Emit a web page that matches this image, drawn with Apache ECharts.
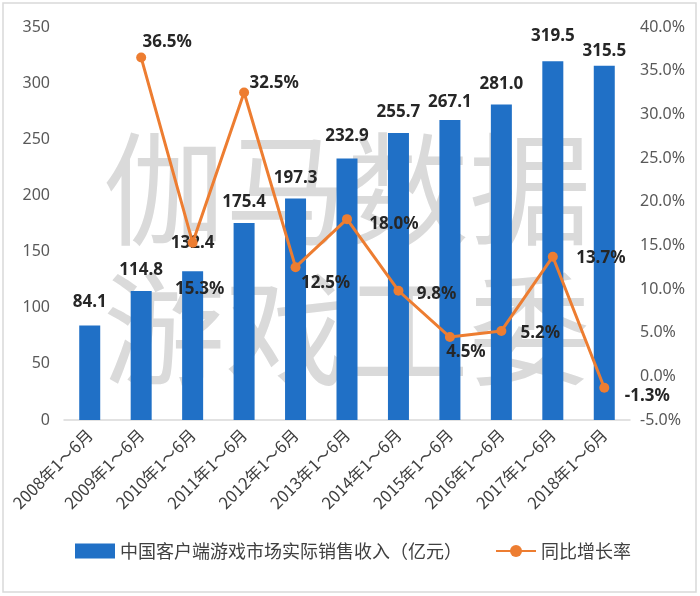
<!DOCTYPE html>
<html><head><meta charset="utf-8">
<script src="https://cdn.jsdelivr.net/npm/echarts@6/dist/echarts.min.js"></script>
<style>html,body{margin:0;padding:0;background:#fff}#c{width:700px;height:596px}</style>
</head><body><div id="c"></div>
<script>
var categories = ['2008年1～6月','2009年1～6月','2010年1～6月','2011年1～6月','2012年1～6月','2013年1～6月','2014年1～6月','2015年1～6月','2016年1～6月','2017年1～6月','2018年1～6月'];
var revenue = [84.1,114.8,132.4,175.4,197.3,232.9,255.7,267.1,281.0,319.5,315.5];
var growth = [null,36.5,15.3,32.5,12.5,18.0,9.8,4.5,5.2,13.7,-1.3];
var leftTicks = {min:0,max:350,interval:50};
var rightTicks = {min:-5,max:40,interval:5};
var seriesNames = ['中国客户端游戏市场实际销售收入（亿元）','同比增长率'];
var watermark = ['伽马数据','游戏工委'];

// label placement (styles, not data)
var barLabelDy = [-3,0,-8,0,0,-2,0,3,0,-5,6];
var lineLabelOffset = [[0,0],[26,-15],[7,46],[30,-9],[30,16],[47,5],[38,3],[16,15],[39,2],[48,1],[43,8]];

var FONT = '"Noto Sans","Noto Sans CJK SC",sans-serif';
var barData = revenue.map(function(v,i){
  return {value:v,label:{offset:[0,barLabelDy[i]]}};
});
var lineData = growth.map(function(v,i){
  if(v===null) return null;
  return {value:v,label:{offset:lineLabelOffset[i]}};
});

var chart = echarts.init(document.getElementById('c'));
chart.setOption({
  animation:false,
  textStyle:{fontFamily:FONT},
  graphic:[
    {type:'rect',shape:{x:3,y:3,width:693,height:589},style:{fill:'none',stroke:'#d9d9d9',lineWidth:1.5},z:-10},
    {type:'text',left:103,top:128,z:-5,style:{text:watermark[0],font:'normal 122px "Noto Sans CJK SC"',fill:'#dadada'}},
    {type:'text',left:103,top:268,z:-5,style:{text:watermark[1],font:'normal 122px "Noto Sans CJK SC"',fill:'#dadada'}}
  ],
  grid:{left:64,right:70,top:27,bottom:176,containLabel:false},
  legend:{
    left:70,top:537,itemWidth:40,itemHeight:15,itemGap:33,
    textStyle:{fontSize:18,color:'#404040',fontFamily:'"Noto Sans CJK SC",sans-serif'},
    data:[{name:seriesNames[0],icon:'rect'},{name:seriesNames[1]}]
  },
  xAxis:{
    type:'category',data:categories,
    axisLine:{lineStyle:{color:'#d9d9d9',width:1.5}},
    axisTick:{show:false},
    axisLabel:{rotate:45,fontSize:16.5,color:'#404040',margin:12,interval:0,fontFamily:'"Noto Sans CJK SC",sans-serif'}
  },
  yAxis:[
    {type:'value',min:leftTicks.min,max:leftTicks.max,interval:leftTicks.interval,
     splitLine:{show:false},axisLine:{show:false},axisTick:{show:false},
     axisLabel:{fontSize:16,color:'#595959',margin:14}},
    {type:'value',min:rightTicks.min,max:rightTicks.max,interval:rightTicks.interval,
     splitLine:{show:false},axisLine:{show:false},axisTick:{show:false},
     axisLabel:{fontSize:16,color:'#595959',margin:10,formatter:function(v){return v.toFixed(1)+'%';}}}
  ],
  series:[
    {name:seriesNames[0],type:'bar',data:barData,barWidth:21,
     itemStyle:{color:'#2070C6'},
     label:{show:true,position:'top',distance:12,fontSize:17,fontWeight:'bold',color:'#262626',
       formatter:function(p){return p.value.toFixed(1);}}},
    {name:seriesNames[1],type:'line',yAxisIndex:1,data:lineData,
     symbol:'circle',symbolSize:10,
     lineStyle:{color:'#ED7D31',width:3},itemStyle:{color:'#ED7D31'},
     label:{show:true,position:'inside',fontSize:17,fontWeight:'bold',color:'#262626',
       formatter:function(p){return p.value.toFixed(1)+'%';}},
     z:3}
  ]
});
</script></body></html>
